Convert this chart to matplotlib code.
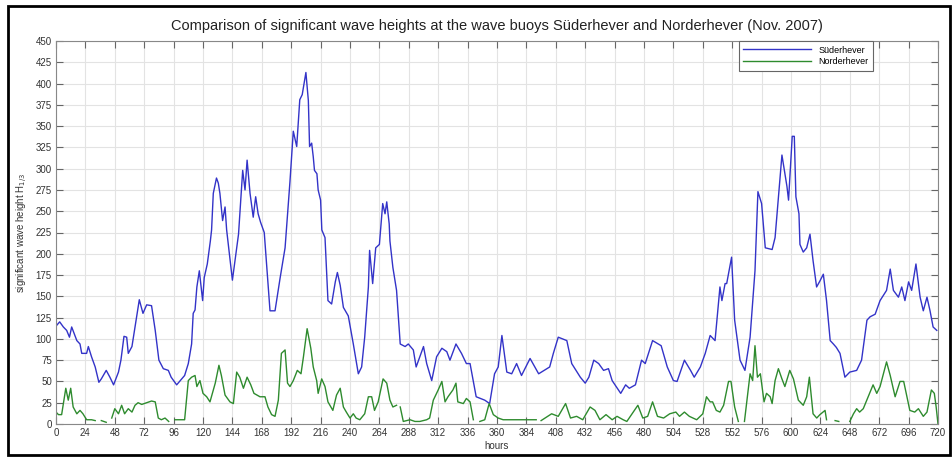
import numpy as np
import matplotlib
matplotlib.use('Agg')
import matplotlib.pyplot as plt
from matplotlib.patches import Rectangle

nan = np.nan

# Süderhever (hour / H1/3)
sued_hours = [0, 3, 6, 8.7, 11, 12.8, 17, 19.6, 21, 25, 26.4, 29, 32, 35, 37, 41, 44, 47,
              51, 53, 55.5, 57.7, 59, 62, 64.5, 68, 71, 74, 78, 81, 84, 87.6, 91.7, 94,
              98.5, 102.6, 105, 108, 110.7, 112, 113.5, 115, 117, 119.7, 121, 123.5, 126,
              127, 128.4, 129.8, 131, 132.5, 133.8, 136, 138, 139.3, 144, 149, 152.4, 154.3,
              156, 158.4, 161, 163, 165, 167, 170, 174.7, 178.8, 183, 187, 191, 193.7, 196.5,
              199, 201, 204, 206, 207, 208.7, 210, 211, 213, 214, 216, 217, 219.6, 222, 225,
              228, 229.7, 232, 234.6, 238.6, 242.7, 246.8, 249.5, 252, 255, 256, 258.5, 261,
              264, 266.7, 268.6, 270, 272, 272.6, 275, 278, 281, 285, 287.6, 291.7, 294, 297,
              300, 302.6, 306.7, 310.7, 315, 319, 321.6, 326.5, 331, 335, 338, 343, 350, 354,
              358, 361, 364, 368, 372, 376, 380, 387, 394, 403, 406, 410, 417, 421, 428, 432,
              435, 439, 443, 447, 451, 454, 461, 465, 468, 473, 478, 481, 487, 494, 499, 504,
              507, 513, 518, 521, 526, 530, 534, 538, 542, 543.6, 546.2, 547.5, 551.5, 554,
              558.4, 562.4, 566.6, 570.6, 573, 576, 579, 584.6, 587, 592.6, 596.7, 598, 601,
              602.7, 604, 606.5, 607.3, 610, 612.8, 615.5, 618, 620.9, 623.6, 626.4, 629, 632,
              634.6, 637, 640, 644, 648, 653.6, 657.6, 662, 664.6, 668.7, 672.7, 678, 681,
              683.6, 687.7, 690.4, 693, 696, 698.5, 702, 705.4, 708, 711, 713.5, 716, 719]
sued_vals = [115, 120, 114, 110, 102, 114, 98, 94, 83, 83, 91, 79, 67, 49, 53, 63, 55, 46,
             61, 75, 103, 102, 83, 91, 114, 146, 130, 140, 139, 110, 75, 65, 63, 55,
             46, 53, 57, 71, 94, 130, 134, 161, 180, 145, 172, 188, 215,
             228, 271, 281, 289, 283, 271, 239, 255, 228, 169, 223, 298, 275,
             310, 271, 243, 267, 247, 237, 225, 133, 133, 172, 207, 285, 344, 326,
             381, 387, 413, 380, 326, 330, 314, 298, 294, 275, 263, 228, 219, 145, 141,
             167, 178, 163, 137, 127, 94, 59, 67, 102, 161, 204, 165, 207,
             211, 259, 247, 261, 235, 215, 184, 157, 94, 91, 94, 87, 67, 79,
             91, 71, 51, 79, 89, 85, 75, 94, 83, 71, 71, 32, 28, 24,
             59, 67, 104, 61, 59, 71, 57, 77, 59, 67, 83, 102, 98, 71, 55, 48,
             55, 75, 71, 63, 65, 51, 36, 46, 42, 46, 75, 71, 98, 92, 67, 51,
             50, 75, 63, 55, 67, 83, 104, 98, 161, 145, 165, 165, 196, 122,
             75, 63, 102, 180, 273, 259, 207, 205, 219, 316, 279, 263, 338,
             338, 267, 247, 211, 202, 207, 223, 192, 161, 168, 176, 145, 98,
             94, 90, 83, 55, 61, 63, 75, 122, 126, 129, 145, 157, 182,
             157, 149, 161, 145, 167, 157, 188, 149, 133, 149, 133, 114, 110]

# Norderhever (nan = missing values)
nord_hours = [0, 2, 4.6, 8, 10, 12, 14, 17, 19.6, 22, 25, 29, 32, 33.5, 37, 41, 42.5, 45.5,
              48, 51, 53.6, 56, 59, 62, 64.5, 67, 70, 74, 78, 81, 83.5, 86, 89, 92, 93.5, 97,
              105, 108, 110.7, 113.5, 115, 117.5, 120, 123, 125.7, 130, 133, 135, 138, 142,
              144.8, 147.5, 150, 153, 156, 159, 161.6, 166.5, 170.6, 173, 176, 178.8, 181.5,
              184, 187, 189, 191, 193.7, 197, 200, 202, 205, 208, 210, 212.8, 214, 216.9,
              219.6, 222, 226, 229, 232, 234.6, 237, 240, 242.7, 245, 248, 252, 255, 257.7,
              260, 263, 267, 270, 272.6, 275, 278, 279.5, 281, 283.5, 289, 293, 297, 302.6,
              305, 308, 312, 315, 317.6, 320, 324, 326.5, 328, 332.5, 335, 338, 340.7, 342.5,
              346, 350, 353.6, 357, 361, 365, 373, 381, 392, 394, 396, 404.6, 410, 416, 420,
              425, 430, 436, 440, 444, 449, 454, 458, 463, 466, 475, 479, 483, 487, 491, 496,
              501, 506, 509, 513, 517, 523, 528, 531, 534, 536, 539, 542, 545, 549, 551, 554,
              557, 559.5, 562, 566.6, 568.7, 570.6, 572.6, 575, 578, 580, 583, 584.6, 587,
              589.7, 592.6, 595, 599, 602, 606, 610, 612.8, 615, 618, 621, 623.6, 627.8, 629,
              632, 636, 639, 643, 648, 651, 653.6, 656, 659, 663, 667, 670, 672.7, 678, 681,
              685, 689, 692, 694.6, 697, 701, 704, 708, 711, 714.6, 717, 718.5, 720]
nord_vals = [14, 11, 11, 42, 28, 42, 20, 12, 16, 12, 5, 5, 4, nan, 4, 2, nan, 7,
             18, 12, 22, 12, 18, 14, 22, 25, 23, 25, 27, 26, 7, 5, 7, 3, nan, 5,
             5, 51, 55, 57, 44, 51, 36, 32, 26, 48, 69, 57, 34, 26,
             24, 61, 55, 42, 55, 46, 36, 32, 32, 20, 11, 9, 28,
             83, 87, 48, 44, 51, 63, 59, 79, 112, 89, 67, 51, 36, 53,
             44, 26, 16, 34, 42, 20, 14, 7, 12, 7, 5, 12, 32, 32,
             16, 26, 53, 48, 28, 20, 22, nan, 20, 3, 5, 3, 3, 5,
             7, 28, 40, 50, 26, 32, 40, 48, 26, 24, 30, 26, 5, nan,
             3, 5, 24, 11, 7, 5, 5, 5, 5, nan, 4, 12, 9, 24, 7,
             9, 5, 20, 16, 5, 11, 5, 9, 5, 3, 22, 7, 9, 26, 9, 7,
             12, 14, 9, 14, 9, 5, 12, 32, 26, 26, 16, 14, 22, 50, 50, 20,
             3, nan, 3, 59, 51, 92, 55, 59, 26, 36, 32, 24, 51,
             65, 53, 44, 63, 53, 28, 22, 32, 55, 12, 7, 11, 16, 5,
             nan, 4, 3, nan, 3, 12, 18, 14, 18, 32, 46, 36, 44, 73, 57,
             32, 50, 50, 32, 16, 14, 18, 9, 14, 40, 36, 20, 0]

x_ticks = np.arange(0, 721, 24)
y_ticks = np.arange(0, 451, 25)

fig = plt.figure(figsize=(9.53, 4.57), dpi=100)
plt.rcParams['font.family'] = ['Liberation Sans', 'DejaVu Sans']
ax = fig.add_axes([56 / 953, 33 / 457, 882 / 953, 383 / 457])

ax.plot(sued_hours, sued_vals, color='#3333c8', linewidth=1.0, label='Süderhever')
ax.plot(nord_hours, nord_vals, color='#2e8b2e', linewidth=1.0, label='Norderhever')

ax.set_xlim(0, 720)
ax.set_ylim(0, 450)
ax.set_xticks(x_ticks)
ax.set_yticks(y_ticks)
ax.tick_params(direction='in', top=True, right=True, labelsize=7, length=5,
               color='#666666', labelcolor='#333333', pad=3)
ax.grid(True, color='#e3e3e3', linestyle='-', linewidth=0.8)
ax.set_axisbelow(True)
for s in ax.spines.values():
    s.set_color('#888888')
    s.set_linewidth(0.8)

ax.set_title('Comparison of significant wave heights at the wave buoys Süderhever and Norderhever (Nov. 2007)',
             fontsize=10.5, color='#222222', pad=8)
ax.set_xlabel('hours', fontsize=7, color='#333333', labelpad=2)
ax.set_ylabel('significant wave height H$_{1/3}$', fontsize=7, color='#333333', labelpad=4)

leg = ax.legend(loc='upper right', bbox_to_anchor=(0.926, 1.0), borderaxespad=0, fontsize=6.5,
                fancybox=False, framealpha=1, edgecolor='#666666', handlelength=7.5,
                borderpad=0.5, labelspacing=0.3)
leg.get_frame().set_linewidth(0.8)

# black frame around the whole figure
fig.patches.append(Rectangle((8 / 953, 2 / 457), 942 / 953, 449 / 457, transform=fig.transFigure,
                             fill=False, edgecolor='black', linewidth=2))

fig.savefig('out.png', dpi=100)
